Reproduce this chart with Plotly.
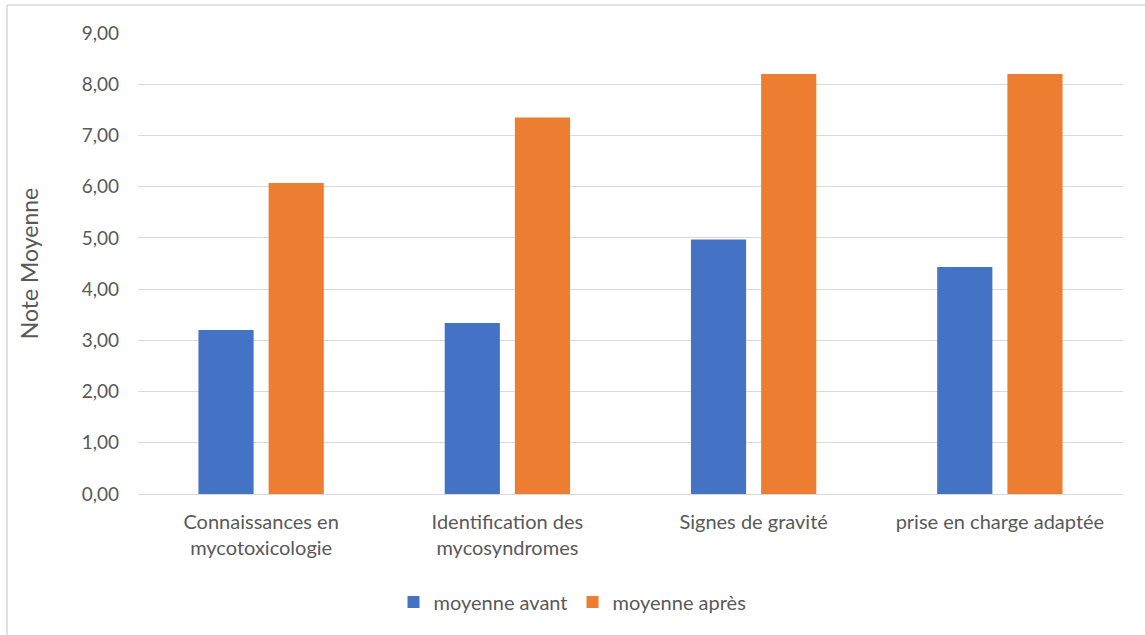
import plotly.graph_objects as go

categories = [
    "Connaissances en<br>mycotoxicologie",
    "Identification des<br>mycosyndromes",
    "Signes de gravité",
    "prise en charge adaptée",
]
moyenne_avant = [3.20, 3.34, 4.97, 4.43]
moyenne_apres = [6.07, 7.35, 8.20, 8.20]
y_ticks = [0, 1, 2, 3, 4, 5, 6, 7, 8, 9]

FONT = "Lato, Calibri, Carlito, sans-serif"
TEXT = "#595959"

fig = go.Figure()
fig.add_trace(go.Bar(name="moyenne avant", x=categories, y=moyenne_avant,
                     marker=dict(color="#4472C4", line=dict(width=0))))
fig.add_trace(go.Bar(name="moyenne après", x=categories, y=moyenne_apres,
                     marker=dict(color="#ED7D31", line=dict(width=0))))

W, H = 1145, 635
L, R, T, B = 138, 22, 33, 141
pw, ph = W - L - R, H - T - B
y_base = H - B  # pixel row of the zero line


def px_x(p):
    return (p - L) / pw


def px_y(p):
    return (y_base - p) / ph


frame = dict(color="#D9D9D9", width=1.5)

fig.update_layout(
    width=W, height=H,
    margin=dict(l=L, r=R, t=T, b=B, autoexpand=False),
    paper_bgcolor="white", plot_bgcolor="white",
    barmode="group", bargap=0.43, bargroupgap=0.214,
    separators=", ",
    font=dict(family=FONT, size=20, color=TEXT),
    showlegend=True,
    legend=dict(orientation="h", x=px_x(W / 2), xanchor="center",
                y=px_y(602), yanchor="middle",
                font=dict(size=20, color=TEXT),
                traceorder="normal"),
    xaxis=dict(showgrid=False, showline=False, ticks="", ticklabelstandoff=14,
               tickfont=dict(size=20, color=TEXT)),
    yaxis=dict(range=[0, 9], tickvals=y_ticks, tickformat=".2f",
               showgrid=True, gridcolor="#D9D9D9", gridwidth=1,
               zeroline=True, zerolinecolor="#D9D9D9", zerolinewidth=1,
               showline=False, ticks="", ticklen=0, ticklabelstandoff=18,
               tickfont=dict(size=19, color=TEXT),
               title=dict(text="Note Moyenne", font=dict(size=23, color=TEXT), standoff=36)),
    shapes=[
        dict(type="line", xref="paper", yref="paper",
             x0=px_x(7), x1=px_x(7), y0=px_y(H + 2), y1=px_y(5), line=frame, layer="below"),
        dict(type="line", xref="paper", yref="paper",
             x0=px_x(7), x1=px_x(W + 2), y0=px_y(5), y1=px_y(5), line=frame, layer="below"),
    ],
)

fig.write_html("out.html")
